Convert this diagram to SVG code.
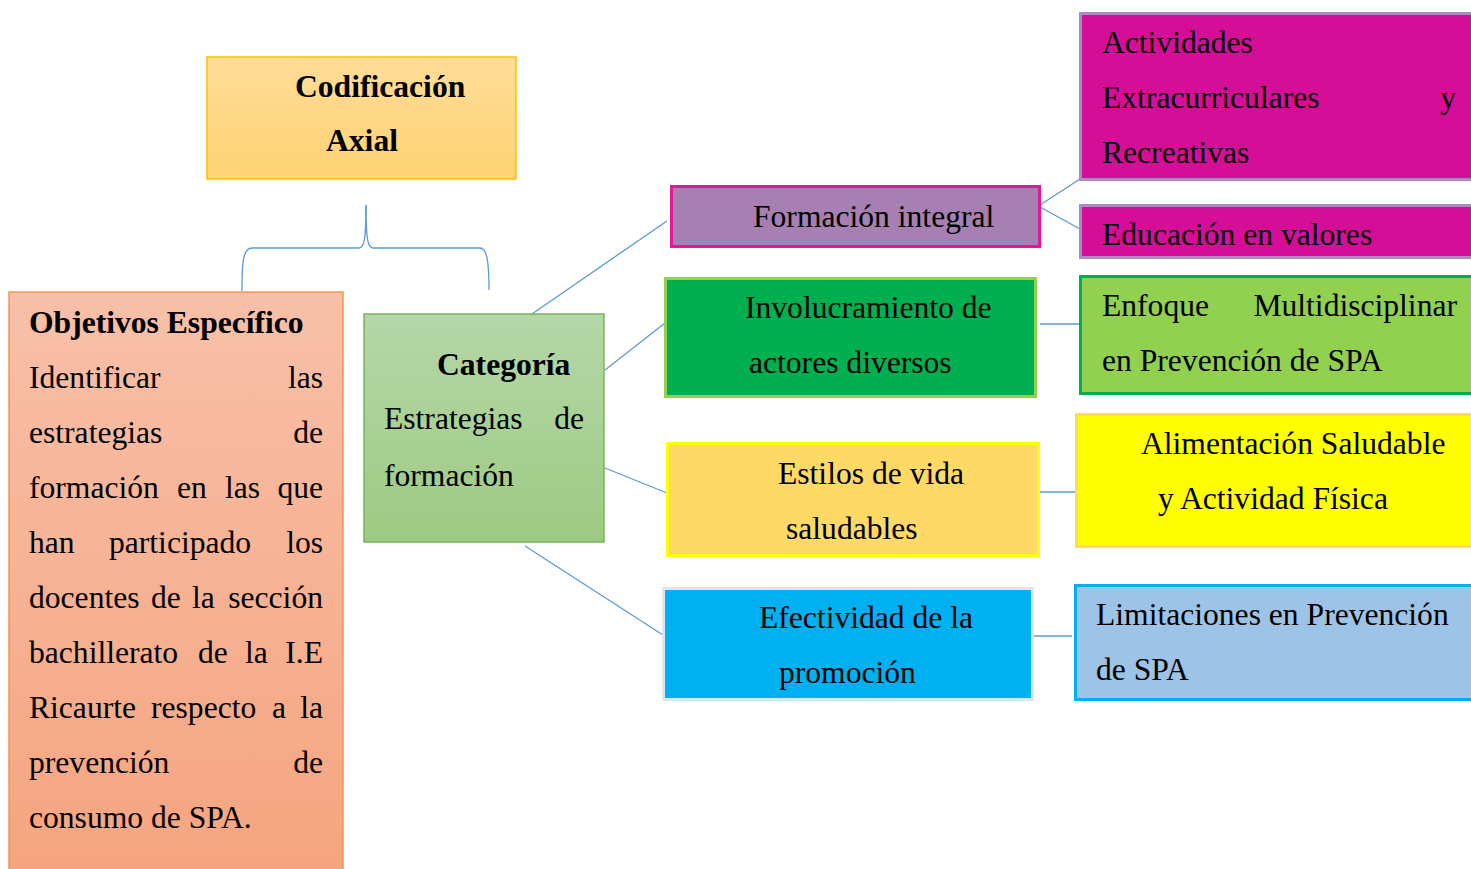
<svg xmlns="http://www.w3.org/2000/svg" width="1471" height="869" viewBox="0 0 1471 869">
<defs>
<linearGradient id="gOrange" x1="0" y1="0" x2="0" y2="1"><stop offset="0" stop-color="#FFDC98"/><stop offset="1" stop-color="#FFD373"/></linearGradient>
<linearGradient id="gSalmon" x1="0" y1="0" x2="0" y2="1"><stop offset="0" stop-color="#F8C0A9"/><stop offset="1" stop-color="#F5A47F"/></linearGradient>
<linearGradient id="gGreen" x1="0" y1="0" x2="0" y2="1"><stop offset="0" stop-color="#B6D7A8"/><stop offset="1" stop-color="#9DCA83"/></linearGradient>
</defs>
<style>
text{font-family:"Liberation Serif","Times New Roman",serif;font-size:31.6px;fill:#000}
.b{font-weight:bold}
.e{text-anchor:end}
.con{fill:none;stroke:#5B9BD5;stroke-width:1.3}
</style>
<rect width="1471" height="869" fill="#fff"/>
<g id="connectors">
<path class="con" d="M242,291 C242,262 243,248 252,248 L359,248 C364,248 366,240 366,205"/>
<path class="con" d="M366,205 C366,240 368,248 373,248 L480,248 C487,248 489,262 489,290"/>
<line class="con" x1="529" y1="316" x2="667" y2="221"/>
<line class="con" x1="605" y1="370" x2="665" y2="323"/>
<line class="con" x1="605" y1="468" x2="667" y2="493"/>
<line class="con" x1="525" y1="546" x2="663" y2="635"/>
<line class="con" x1="1040" y1="205" x2="1080" y2="179"/>
<line class="con" x1="1040" y1="207" x2="1080" y2="229"/>
<line class="con" x1="1040" y1="324" x2="1080" y2="324"/>
<line class="con" x1="1040" y1="492" x2="1076" y2="492"/>
<line class="con" x1="1033" y1="636" x2="1072" y2="636"/>
</g>
<g id="codificacion">
<rect x="207" y="57" width="309" height="122" fill="url(#gOrange)" stroke="#FFC000" stroke-width="1.5"/>
<text class="b" x="295" y="97">Codificación</text>
<text class="b" x="326" y="151">Axial</text>
</g>
<g id="objetivos">
<rect x="9" y="292" width="334" height="590" fill="url(#gSalmon)" stroke="#F4954F" stroke-width="1.5"/>
<text class="b" x="29" y="333">Objetivos Específico</text>
<text x="29" y="388">Identificar</text><text class="e" x="323" y="388">las</text>
<text x="29" y="443">estrategias</text><text class="e" x="323" y="443">de</text>
<text x="29" y="498">formación</text><text x="177" y="498">en</text><text x="225" y="498">las</text><text class="e" x="323" y="498">que</text>
<text x="29" y="553">han</text><text x="109" y="553">participado</text><text class="e" x="323" y="553">los</text>
<text x="29" y="608">docentes</text><text x="151" y="608">de</text><text x="192" y="608">la</text><text class="e" x="323" y="608">sección</text>
<text x="29" y="663">bachillerato</text><text x="198" y="663">de</text><text x="245" y="663">la</text><text class="e" x="323" y="663">I.E</text>
<text x="29" y="718">Ricaurte</text><text x="151" y="718">respecto</text><text x="272" y="718">a</text><text class="e" x="323" y="718">la</text>
<text x="29" y="773">prevención</text><text class="e" x="323" y="773">de</text>
<text x="29" y="828">consumo de SPA.</text>
</g>
<g id="categoria">
<rect x="364" y="314" width="240" height="228" fill="url(#gGreen)" stroke="#7AB45A" stroke-width="1.5"/>
<text class="b" x="437" y="375">Categoría</text>
<text x="384" y="429">Estrategias</text><text class="e" x="584" y="429">de</text>
<text x="384" y="486">formación</text>
</g>
<g id="formacion-integral">
<rect x="671.5" y="186.5" width="368" height="60" fill="#A680B3" stroke="#E0189A" stroke-width="3"/>
<text x="753" y="227">Formación integral</text>
</g>
<g id="involucramiento">
<rect x="665.5" y="278.5" width="370" height="118" fill="#00B050" stroke="#92D050" stroke-width="3"/>
<text x="745" y="318">Involucramiento de</text>
<text x="749" y="373">actores diversos</text>
</g>
<g id="estilos">
<rect x="667.5" y="443.5" width="371" height="112" fill="#FFD966" stroke="#FFFF00" stroke-width="3"/>
<text x="778" y="484">Estilos de vida</text>
<text x="786" y="539">saludables</text>
</g>
<g id="efectividad">
<rect x="663.5" y="588.5" width="369" height="111" fill="#00B0F0" stroke="#DDE6F2" stroke-width="3"/>
<text x="759" y="628">Efectividad de la</text>
<text x="779" y="683">promoción</text>
</g>
<g id="actividades">
<rect x="1080.5" y="13.5" width="400" height="166" fill="#D40E96" stroke="#A88BBF" stroke-width="3"/>
<text x="1102" y="53">Actividades</text>
<text x="1102" y="108">Extracurriculares</text><text class="e" x="1456" y="108">y</text>
<text x="1102" y="163">Recreativas</text>
</g>
<g id="educacion">
<rect x="1080.5" y="205.5" width="400" height="52" fill="#D40E96" stroke="#A88BBF" stroke-width="3"/>
<text x="1102" y="245">Educación en valores</text>
</g>
<g id="enfoque">
<rect x="1080.5" y="276.5" width="400" height="117" fill="#92D050" stroke="#00B050" stroke-width="3"/>
<text x="1102" y="316">Enfoque</text><text class="e" x="1457" y="316">Multidisciplinar</text>
<text x="1102" y="371">en Prevención de SPA</text>
</g>
<g id="alimentacion">
<rect x="1076.5" y="414.5" width="404" height="132" fill="#FFFF00" stroke="#FFD966" stroke-width="3"/>
<text x="1141" y="454">Alimentación Saludable</text>
<text x="1158" y="509">y Actividad Física</text>
</g>
<g id="limitaciones">
<rect x="1075.5" y="585.5" width="405" height="114" fill="#9DC3E6" stroke="#00B0F0" stroke-width="3"/>
<text x="1096" y="625">Limitaciones en Prevención</text>
<text x="1096" y="680">de SPA</text>
</g>
</svg>
